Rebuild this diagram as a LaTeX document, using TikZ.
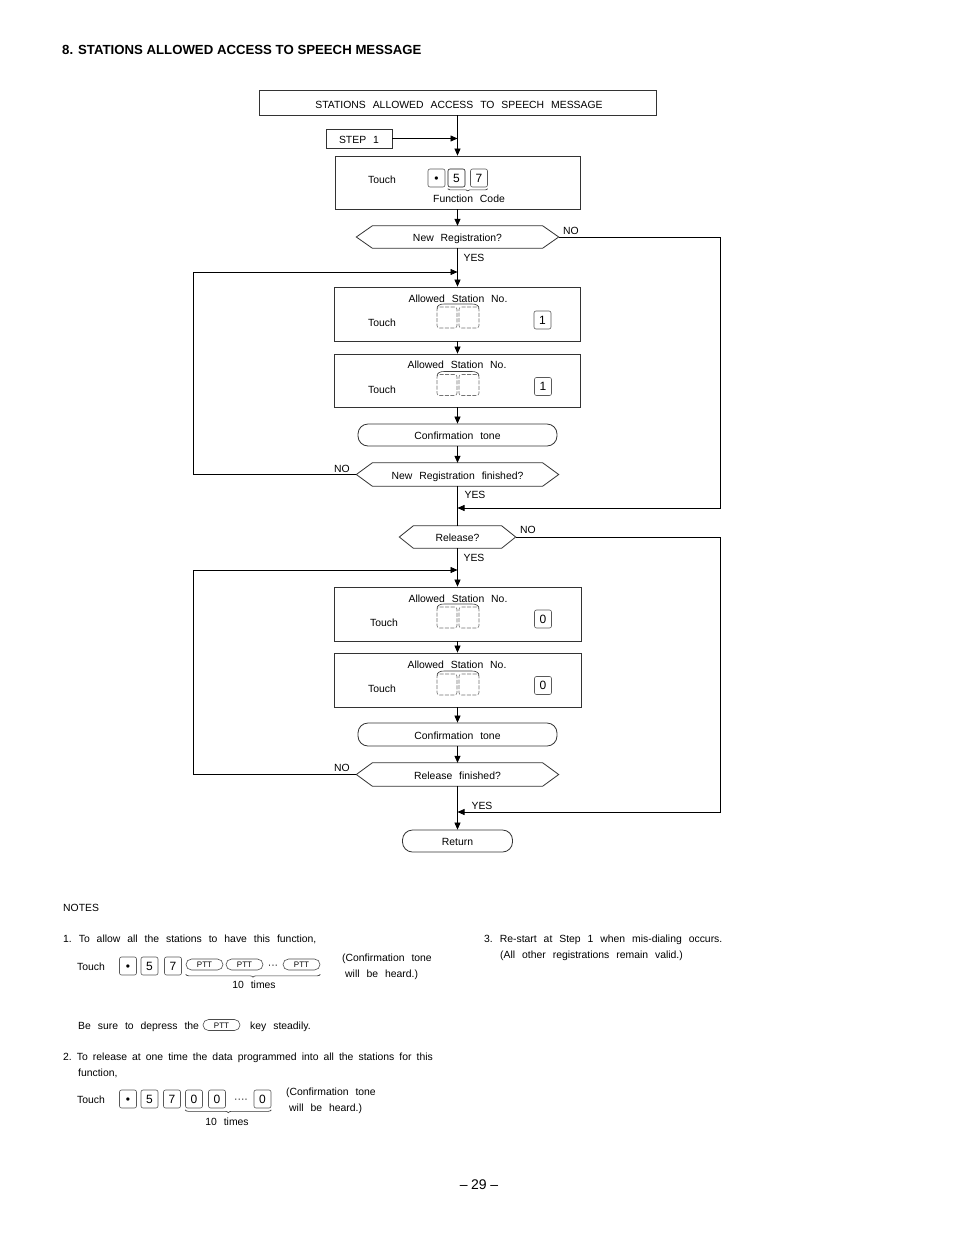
\documentclass[tikz,border=0pt]{standalone}
\usepackage{fontspec}
\setmainfont{Liberation Sans}[WordSpace=2.4]
\newfontfamily\plainfont{Liberation Sans}
\newfontfamily\narrowspace{Liberation Sans}[WordSpace=1.75]
\usetikzlibrary{arrows.meta,decorations.pathreplacing}
\tikzset{
 every node/.style={font=\fontsize{10.4}{12}\selectfont, inner sep=0pt, text height=9.4pt, text depth=0pt},
 box/.style={draw=black!80, line width=0.8pt, inner sep=0pt},
 termbox/.style={box, rounded corners=10pt},
 line/.style={draw=black, line width=0.7pt},
 arr/.style={line, -{Triangle[length=7pt,width=6pt]}},
 keyb/.style={draw=black!65, line width=0.6pt, rounded corners=2pt, minimum width=17pt, minimum height=18pt, inner sep=0pt, text height=8.6pt, font=\plainfont\fontsize{12}{12}\selectfont},
 stnkey/.style={draw=black!55, line width=0.6pt, dash pattern=on 4pt off 1.5pt, rounded corners=2.5pt, minimum width=20pt, minimum height=21pt},
 ptt/.style={draw=black!70, line width=0.6pt, rounded corners=5.5pt, minimum width=37pt, minimum height=11pt, text height=6pt, font=\plainfont\fontsize{8}{8}\selectfont},
 brc/.style={decorate, decoration={brace, mirror, amplitude=3pt}, draw=black!80, line width=0.6pt},
 lbl/.style={anchor=west},
}
\newcommand\hexa[2]{\draw[box] (#1.west) -- ([xshift=#2]#1.north west) -- ([xshift=-#2]#1.north east) -- (#1.east) -- ([xshift=-#2]#1.south east) -- ([xshift=#2]#1.south west) -- cycle;}
\newcommand\stnpair[3]{%
 \node[stnkey] (#1a) at (#2-11,#3) {};
 \node[stnkey] (#1b) at (#2+11,#3) {};
 \draw[black!75, line width=0.6pt] (#2-21,#3-9) .. controls (#2-21,#3-12) and (#2-18,#3-13.5) .. (#2-14,#3-13.5) -- (#2+14,#3-13.5) .. controls (#2+18,#3-13.5) and (#2+21,#3-12) .. (#2+21,#3-9);}
\begin{document}
\begin{tikzpicture}[x=1pt,y=-1pt]
\useasboundingbox (0,0) rectangle (954,1235);
\fill[white] (0,0) rectangle (954,1235);

\node[lbl, font=\plainfont\bfseries\fontsize{13.2}{15}\selectfont, text height=9.8pt] (title) at (62,50) {\spaceskip=3.7pt\relax 8. STATIONS ALLOWED ACCESS TO SPEECH MESSAGE};

% flowchart
\node[box, minimum width=397pt, minimum height=25pt] (hdr) at (457.5,102.5) {};
\node (hdrt) at (459,104) {STATIONS ALLOWED ACCESS TO SPEECH MESSAGE};
\node[box, minimum width=66pt, minimum height=19pt] (stp) at (359,138.5) {STEP 1};
\node[box, minimum width=245pt, minimum height=53pt] (fc) at (457.5,182.5) {};
\node (fct) at (382,179) {Touch};
\node[keyb] (fk1) at (436.5,178) {•};
\node[keyb, draw=black!90] (fk2) at (456.5,178) {5};
\node[keyb] (fk3) at (479,178) {7};
\draw[brc, decoration={amplitude=2pt}] ([yshift=-1.5pt]fk2.south west) -- ([yshift=-1.5pt]fk3.south east);
\node (fcc) at (469,198) {Function Code};

\node[minimum width=202pt, minimum height=22pt] (d1) at (457.5,237) {New Registration?};
\hexa{d1}{16}
\node (no1) at (571,230) {NO};
\node (yes1) at (474,257) {YES};

\node[box, minimum width=246pt, minimum height=54pt] (b1) at (457.5,314) {};
\node (b1t) at (458,298) {Allowed Station No.};
\node (b1u) at (382,322) {Touch};
\stnpair{s1}{458}{317.5}
\node[keyb] (b1k) at (542.5,320) {1};

\node[box, minimum width=246pt, minimum height=53pt] (b2) at (457.5,380.5) {};
\node (b2t) at (457,364) {Allowed Station No.};
\node (b2u) at (382,389) {Touch};
\stnpair{s2}{458}{385}
\node[keyb] (b2k) at (543,386.5) {1};

\node[termbox, minimum width=199pt, minimum height=22pt] (ct1) at (457.5,435) {Confirmation tone};

\node[minimum width=202pt, minimum height=23pt] (d2) at (457.5,474.5) {New Registration finished?};
\hexa{d2}{16}
\node (no2) at (342,468) {NO};
\node (yes2) at (475,494) {YES};
\coordinate (j1) at (457.5,508);

\node[minimum width=116pt, minimum height=22pt] (d3) at (457.5,537) {Release?};
\hexa{d3}{14}
\node (no3) at (528,529) {NO};
\node (yes3) at (474,557) {YES};

\node[box, minimum width=247pt, minimum height=54pt] (b3) at (457.5,614) {};
\node (b3t) at (458,598) {Allowed Station No.};
\node (b3u) at (384,622) {Touch};
\stnpair{s3}{458}{617.5}
\node[keyb] (b3k) at (543,619) {0};

\node[box, minimum width=247pt, minimum height=54pt] (b4) at (457.5,680) {};
\node (b4t) at (457,664) {Allowed Station No.};
\node (b4u) at (382,688) {Touch};
\stnpair{s4}{458}{684.5}
\node[keyb] (b4k) at (543,685.5) {0};

\node[termbox, minimum width=199pt, minimum height=23pt] (ct2) at (457.5,734.5) {Confirmation tone};

\node[minimum width=202pt, minimum height=23pt] (d4) at (457.5,774.5) {Release finished?};
\hexa{d4}{16}
\node (no4) at (342,767) {NO};
\node (yes4) at (482,805) {YES};
\coordinate (j2) at (457.5,812);

\node[termbox, minimum width=110pt, minimum height=22pt] (ret) at (457.5,841) {Return};

% connectors
\draw[arr] (hdr.south) -- (fc.north);
\draw[arr] (stp.east) -- (stp.east -| fc.north);
\draw[arr] (fc.south) -- (d1.north);
\draw[arr] (d1.south) -- (b1.north);
\draw[arr] (b1.south) -- (b2.north);
\draw[arr] (b2.south) -- (ct1.north);
\draw[arr] (ct1.south) -- (d2.north);
\draw[line] (d2.south) -- (d3.north);
\draw[arr] (d3.south) -- (b3.north);
\draw[arr] (b3.south) -- (b4.north);
\draw[arr] (b4.south) -- (ct2.north);
\draw[arr] (ct2.south) -- (d4.north);
\draw[arr] (d4.south) -- (ret.north);

\coordinate (lp1) at (193,272);
\coordinate (m1) at (457.5,272);
\draw[arr] (d2.west) -| (lp1) -- (m1);
\coordinate (lp2) at (193,570);
\coordinate (m2) at (457.5,570);
\draw[arr] (d4.west) -| (lp2) -- (m2);
\coordinate (rp1) at (720,237);
\draw[arr] (d1.east) -- (rp1) |- (j1);
\coordinate (rp2) at (720,537);
\draw[arr] (d3.east) -- (rp2) |- (j2);

% notes
\node[lbl] (notes) at (63,907) {NOTES};
\node[lbl] (n1) at (63,938) {1.\ To allow all the stations to have this function,};
\node[lbl] (n1t) at (77,966) {Touch};
\node[keyb] (n1k1) at (128,966) {•};
\node[keyb] (n1k2) at (149.5,966) {5};
\node[keyb] (n1k3) at (173,966) {7};
\node[ptt] (p1) at (204.5,964.5) {PTT};
\node[ptt] (p2) at (244.5,964.5) {PTT};
\node (dots1) at (273,964) {···};
\node[ptt] (p3) at (301.5,964.5) {PTT};
\draw[brc] ([yshift=-4pt]p1.south west) -- ([yshift=-4pt]p3.south east);
\node (ten1) at (254,984) {10 times};
\node[lbl] (cf1) at (342,957) {(Confirmation tone};
\node[lbl] (cf1b) at (345,973) {will be heard.)};
\node[lbl] (bs) at (78,1025) {Be sure to depress the};
\node[ptt] (p4) at (221.5,1025) {PTT};
\node[lbl] (bs2) at (250,1025) {key steadily.};

\node[lbl, font=\narrowspace\fontsize{10.4}{12}\selectfont] (n2) at (63,1056) {2.\ To release at one time the data programmed into all the stations for this};
\node[lbl] (n2b) at (78,1072) {function,};
\node[lbl] (n2t) at (77,1099) {Touch};
\node[keyb] (n2k1) at (128,1099) {•};
\node[keyb] (n2k2) at (149.5,1099) {5};
\node[keyb] (n2k3) at (172,1099) {7};
\node[keyb] (n2k4) at (194,1099) {0};
\node[keyb] (n2k5) at (217,1099) {0};
\node (dots2) at (241,1098) {····};
\node[keyb] (n2k6) at (262.5,1099) {0};
\draw[brc] ([yshift=-1.5pt]n2k4.south west) -- ([yshift=-1.5pt]n2k6.south east);
\node (ten2) at (227,1121) {10 times};
\node[lbl] (cf2) at (286,1091) {(Confirmation tone};
\node[lbl] (cf2b) at (289,1107) {will be heard.)};

\node[lbl] (n3) at (484,938) {3.\ Re-start at Step 1 when mis-dialing occurs.};
\node[lbl] (n3b) at (500,954) {(All other registrations remain valid.)};

\node[font=\plainfont\fontsize{14}{16}\selectfont, text height=11pt] (pg) at (479,1184) {–\kern3.5pt29\kern3.5pt–};
\end{tikzpicture}
\end{document}
